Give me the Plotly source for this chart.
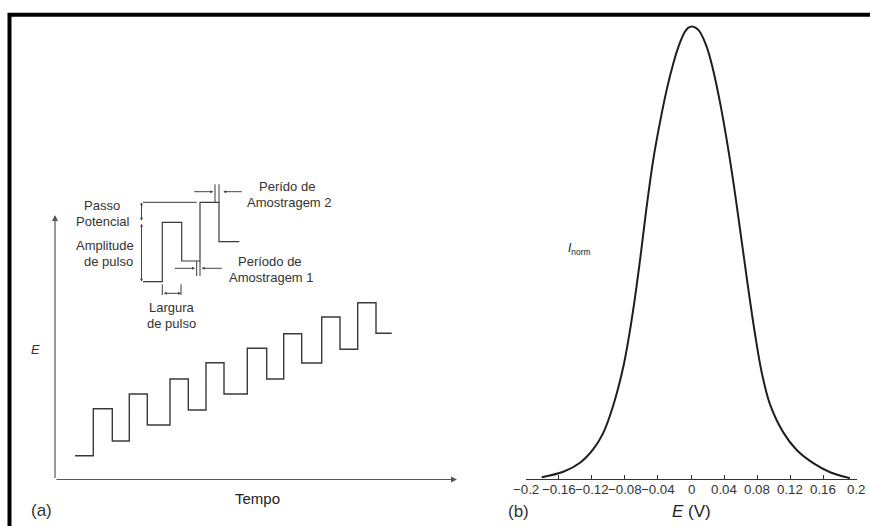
import plotly.graph_objects as go

W, H = 870, 526
FONT = "Liberation Sans, Arial, sans-serif"
INK = "#333333"

# ---------------- panel (a): pulsed potential programme (arbitrary units) -------------
# switching times and potential levels of the staircase with superimposed pulses
step_t = [2.0, 3.83, 5.73, 7.43, 9.23, 11.5, 13.33, 15.1, 16.9, 19.23,
          21.17, 22.87, 24.67, 26.67, 28.5, 30.27, 32.1, 33.67]
step_E = [2.38, 7.08, 3.85, 8.55, 5.45, 10.05, 6.95, 11.68, 8.55, 13.12,
          10.05, 14.58, 11.65, 16.25, 13.02, 17.68, 14.62]

# enlarged detail of two pulses
detail_t = [8.8, 10.73, 10.73, 12.67, 12.67, 14.5, 14.5, 16.4, 16.4, 18.43]
detail_E = [19.78, 19.78, 25.72, 25.72, 21.85, 21.85, 27.72, 27.72, 23.78, 23.78]

# guide segments of the detail (extension lines and sampling / width markers)
guide_t = [8.8, 14.17, None, 14.17, 14.17, None, 14.5, 14.5, None,
           16.0, 16.0, None, 16.4, 16.4, None, 10.73, 10.73, None, 12.6, 12.6]
guide_E = [27.72, 27.72, None, 21.85, 20.35, None, 21.85, 20.35, None,
           29.52, 27.72, None, 29.52, 27.72, None, 19.52, 18.45, None, 19.52, 18.45]

# ---------------- panel (b): normalised differential pulse peak ----------------------
peak_E = [-0.1804, -0.1543, -0.1341, -0.1181, -0.1060, -0.0939, -0.0818, -0.0737,
          -0.0677, -0.0625, -0.0592, -0.0535, -0.0456, -0.0375, -0.0294, -0.0214,
          -0.0148, -0.0081, -0.0035, 0.0012, 0.0058, 0.0100, 0.0190, 0.0269,
          0.0350, 0.0431, 0.0511, 0.0592, 0.0640, 0.0713, 0.0773, 0.0854,
          0.0955, 0.1115, 0.1277, 0.1478, 0.1680, 0.1921]
peak_I = [0.004, 0.016, 0.036, 0.066, 0.102, 0.163, 0.248, 0.329,
          0.401, 0.471, 0.519, 0.603, 0.706, 0.788, 0.860, 0.918,
          0.957, 0.986, 0.997, 1.0, 0.997, 0.990, 0.955, 0.903,
          0.833, 0.750, 0.657, 0.553, 0.489, 0.394, 0.321, 0.236,
          0.165, 0.103, 0.064, 0.035, 0.015, 0.002]

tick_vals = [-0.2, -0.16, -0.12, -0.08, -0.04, 0, 0.04, 0.08, 0.12, 0.16, 0.2]
tick_text = ["\u22120.2", "\u22120.16", "\u22120.12", "\u22120.08", "\u22120.04", "0",
             "0.04", "0.08", "0.12", "0.16", "0.2"]


def px(x):
    return x / W


def py(y):
    return 1 - y / H


fig = go.Figure()

fig.add_trace(go.Scatter(
    x=step_t, y=step_E + [step_E[-1]], mode="lines", line_shape="hv",
    line=dict(color="#3a3a3a", width=1.4), xaxis="x3", yaxis="y3",
    hoverinfo="skip", showlegend=False))
fig.add_trace(go.Scatter(
    x=detail_t, y=detail_E, mode="lines",
    line=dict(color="#3a3a3a", width=1.2), xaxis="x3", yaxis="y3",
    hoverinfo="skip", showlegend=False))
fig.add_trace(go.Scatter(
    x=guide_t, y=guide_E, mode="lines", connectgaps=False,
    line=dict(color="#3a3a3a", width=1.0), xaxis="x3", yaxis="y3",
    hoverinfo="skip", showlegend=False))

fig.add_trace(go.Scatter(
    x=peak_E, y=peak_I, mode="lines", line_shape="spline",
    line=dict(color="#1e1e1e", width=2, smoothing=1.0), xaxis="x2", yaxis="y2",
    cliponaxis=False, hoverinfo="skip", showlegend=False))

annotations = []


def arrow(x0, y0, x1, y1, width=1.0, size=0.6, color="#444", both=False, head=2):
    a = dict(x=x1, y=y1, ax=x0, ay=y0, xref="x3", yref="y3", axref="x3", ayref="y3",
             text="", showarrow=True, arrowhead=head, arrowsize=size,
             arrowwidth=width, arrowcolor=color, standoff=0, startstandoff=0)
    if both:
        a.update(arrowside="end+start", startarrowhead=head, startarrowsize=size)
    annotations.append(a)


# axes of panel (a)
arrow(0, 0, 0, 26.45, width=1.2, size=1.0, color="#555")
arrow(0, 0, 40.2, 0, width=1.2, size=1.0, color="#555")

# dimension arrows of the detail
arrow(8.65, 25.72, 8.65, 27.72, both=True)
arrow(8.65, 25.72, 8.65, 19.78, both=True)
arrow(10.73, 18.62, 12.6, 18.62, both=True)
arrow(11.83, 21.12, 14.0, 21.12)
arrow(16.83, 21.12, 14.67, 21.12)
arrow(13.77, 28.78, 15.83, 28.78)
arrow(18.83, 28.78, 16.83, 28.78)


def label(text, x, y, size=13, color=INK):
    annotations.append(dict(
        x=px(x), y=py(y), xref="paper", yref="paper", text=text, showarrow=False,
        xanchor="center", yanchor="middle",
        font=dict(family=FONT, size=size, color=color)))


label("Passo", 101.7, 205)
label("Potencial", 103, 221)
label("Amplitude", 105, 245)
label("de pulso", 108, 261)
label("Perído de", 287, 186)
label("Amostragem 2", 289, 202)
label("Período de", 270, 261)
label("Amostragem 1", 271, 277)
label("Largura", 171.7, 307)
label("de pulso", 171.7, 323)
label("<i>E</i>", 35, 349, size=13)
label("Tempo", 257.7, 498, size=15, color="#222")
label("(a)", 41, 510, size=17)
label("(b)", 518, 511, size=17)
label("<i>E</i> (V)", 691.7, 511, size=17, color="#222")
label("<i>I</i><sub>norm</sub>", 579, 249, size=12, color="#222")

# tick labels of the potential axis, placed on the axis scale
for v, t in zip(tick_vals, tick_text):
    annotations.append(dict(
        x=v, y=py(489), xref="x2", yref="paper", text=t, showarrow=False,
        xanchor="center", yanchor="middle",
        font=dict(family=FONT, size=13.3, color="#333")))

fig.update_layout(
    width=W, height=H,
    margin=dict(l=0, r=0, t=0, b=0),
    paper_bgcolor="white", plot_bgcolor="white",
    font=dict(family=FONT, color=INK),
    showlegend=False,
    annotations=annotations,
    xaxis=dict(visible=False, domain=[0, 0.01]),
    yaxis=dict(visible=False, domain=[0, 0.01]),
    xaxis2=dict(domain=[px(525.5), px(856.5)], range=[-0.2, 0.2], anchor="y2",
                tickmode="array", tickvals=tick_vals, showticklabels=False,
                ticks="inside", ticklen=4, tickwidth=1, tickcolor="#333",
                showline=True, linecolor="#333", linewidth=1.3,
                showgrid=False, zeroline=False),
    yaxis2=dict(domain=[py(479), py(17.45)], range=[0, 1.02], anchor="x2",
                visible=False, showgrid=False, zeroline=False),
    xaxis3=dict(domain=[px(55), px(457)], range=[0, 40.2], anchor="y3",
                visible=False, showgrid=False, zeroline=False),
    yaxis3=dict(domain=[py(479.5), py(170)], range=[0, 30.95], anchor="x3",
                visible=False, showgrid=False, zeroline=False),
    shapes=[dict(type="rect", xref="paper", yref="paper",
                 x0=px(9.5), x1=1.05, y0=-0.05, y1=py(14.7),
                 line=dict(color="black", width=4), fillcolor="rgba(0,0,0,0)")],
)

fig.write_html("out.html")
